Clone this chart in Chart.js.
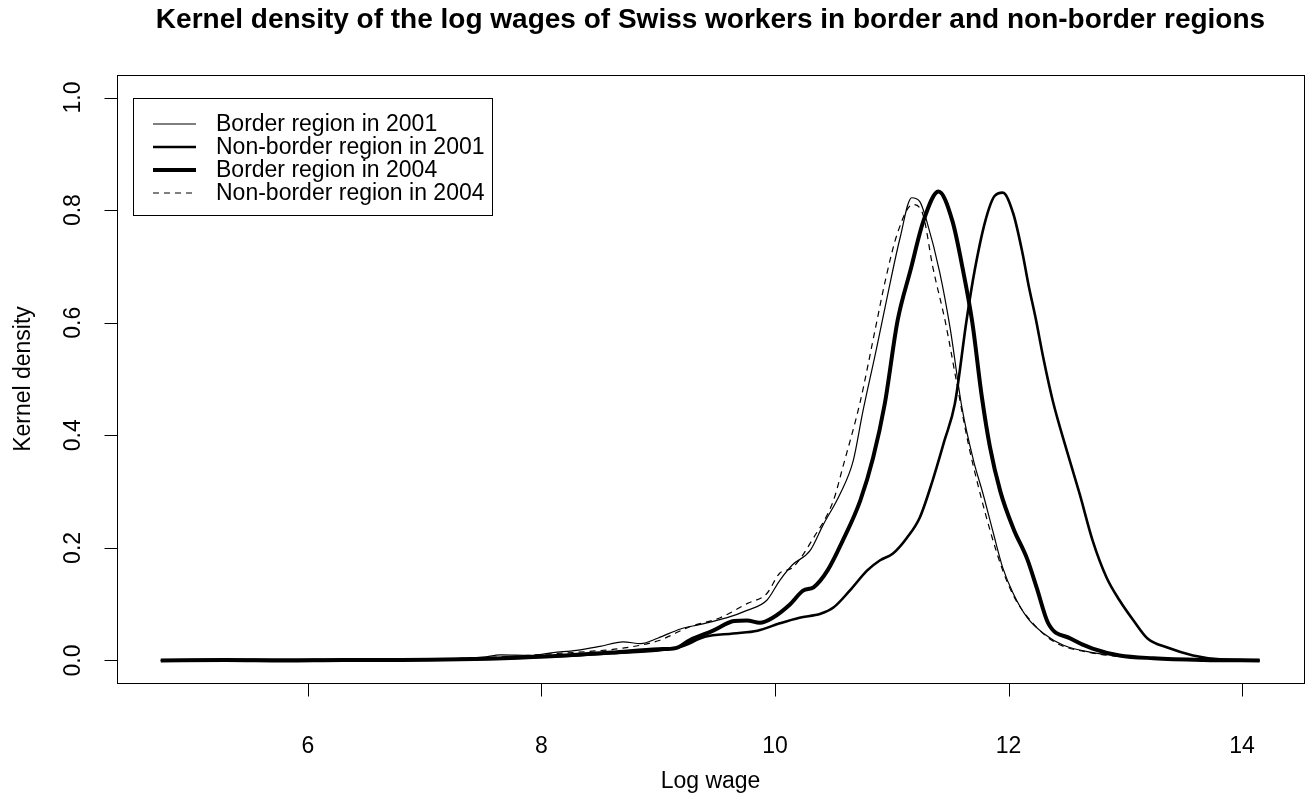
<!DOCTYPE html>
<html>
<head>
<meta charset="utf-8">
<script src="https://cdn.jsdelivr.net/npm/chart.js@4.4.1/dist/chart.umd.min.js"></script>
<style>
  html, body { margin: 0; padding: 0; background: #fff; }
  #wrap { width: 1314px; height: 801px; }
</style>
</head>
<body>
<div id="wrap"><canvas id="densityChart" width="1314" height="801"></canvas></div>
<script>
// 축 눈금
const xTicks = [6, 8, 10, 12, 14];
const yTicks = [0, 0.2, 0.4, 0.6, 0.8, 1.0];
const yTickLabels = ['0.0', '0.2', '0.4', '0.6', '0.8', '1.0'];

// Border region in 2001 (thin)
const border2001X = [4.74, 5.2, 5.6, 6.0, 6.4, 6.8, 7.2, 7.5, 7.65, 7.9, 8.1, 8.3, 8.5, 8.7, 8.85, 9.0, 9.19, 9.36, 9.59, 9.76, 9.93, 10.04, 10.15, 10.3, 10.41, 10.56, 10.67, 10.75, 10.87, 10.96, 11.07, 11.17, 11.24, 11.3, 11.41, 11.5, 11.6, 11.7, 11.78, 11.87, 11.95, 12.04, 12.16, 12.3, 12.47, 12.72, 13.0, 13.4, 13.8, 14.15];
const border2001Y = [0, 0.001, 0, 0.001, 0.001, 0.002, 0.003, 0.006, 0.01, 0.009, 0.014, 0.018, 0.025, 0.033, 0.03, 0.04, 0.056, 0.064, 0.076, 0.089, 0.107, 0.142, 0.17, 0.195, 0.24, 0.297, 0.355, 0.44, 0.555, 0.645, 0.75, 0.822, 0.815, 0.78, 0.69, 0.59, 0.45, 0.355, 0.297, 0.226, 0.165, 0.119, 0.076, 0.048, 0.027, 0.014, 0.007, 0.003, 0.001, 0];

// Non-border region in 2001 (medium)
const nonBorder2001X = [4.74, 5.3, 5.8, 6.3, 6.8, 7.3, 7.8, 8.2, 8.6, 9.0, 9.2, 9.4, 9.64, 9.85, 10.04, 10.21, 10.39, 10.5, 10.64, 10.79, 10.9, 11.01, 11.13, 11.24, 11.35, 11.45, 11.54, 11.64, 11.71, 11.8, 11.88, 11.95, 12.04, 12.12, 12.17, 12.23, 12.3, 12.38, 12.5, 12.61, 12.72, 12.84, 12.95, 13.07, 13.19, 13.36, 13.58, 13.81, 14.15];
const nonBorder2001Y = [0, 0.001, 0.001, 0.001, 0.002, 0.002, 0.005, 0.008, 0.013, 0.018, 0.025, 0.042, 0.048, 0.053, 0.066, 0.076, 0.083, 0.094, 0.124, 0.16, 0.178, 0.19, 0.218, 0.254, 0.32, 0.39, 0.456, 0.604, 0.693, 0.78, 0.825, 0.831, 0.794, 0.723, 0.668, 0.61, 0.535, 0.46, 0.372, 0.295, 0.213, 0.147, 0.107, 0.071, 0.039, 0.023, 0.009, 0.002, 0];

// Border region in 2004 (thick)
const border2004X = [4.74, 5.3, 5.8, 6.3, 6.8, 7.3, 7.8, 8.2, 8.6, 9.0, 9.15, 9.27, 9.47, 9.65, 9.76, 9.87, 9.98, 10.13, 10.24, 10.33, 10.45, 10.58, 10.73, 10.84, 10.94, 11.05, 11.16, 11.27, 11.4, 11.52, 11.61, 11.69, 11.77, 11.84, 11.93, 12.04, 12.16, 12.24, 12.34, 12.53, 12.72, 12.95, 13.24, 13.67, 14.15];
const border2004Y = [0, 0.001, 0, 0.001, 0.001, 0.002, 0.005, 0.009, 0.014, 0.02, 0.022, 0.036, 0.053, 0.07, 0.071, 0.067, 0.076, 0.1, 0.124, 0.13, 0.16, 0.213, 0.284, 0.36, 0.456, 0.604, 0.693, 0.78, 0.833, 0.78, 0.693, 0.6, 0.47, 0.38, 0.3, 0.235, 0.18, 0.13, 0.066, 0.039, 0.021, 0.009, 0.004, 0.001, 0];

// Non-border region in 2004 (dashed)
const nonBorder2004X = [4.74, 5.2, 5.6, 6.0, 6.4, 6.8, 7.2, 7.5, 7.8, 8.1, 8.4, 8.7, 9.0, 9.27, 9.53, 9.76, 9.93, 10.04, 10.15, 10.33, 10.5, 10.58, 10.73, 10.85, 10.95, 11.05, 11.18, 11.27, 11.35, 11.46, 11.55, 11.65, 11.74, 11.85, 11.95, 12.05, 12.2, 12.4, 12.7, 13.0, 13.5, 14.15];
const nonBorder2004Y = [0, 0.001, 0, 0.001, 0.001, 0.002, 0.003, 0.005, 0.008, 0.012, 0.016, 0.022, 0.035, 0.06, 0.076, 0.101, 0.119, 0.155, 0.165, 0.218, 0.284, 0.343, 0.46, 0.58, 0.68, 0.76, 0.81, 0.79, 0.7, 0.6, 0.5, 0.39, 0.31, 0.225, 0.16, 0.112, 0.068, 0.032, 0.014, 0.006, 0.002, 0];

const seriesLabels = ['Border region in 2001', 'Non-border region in 2001', 'Border region in 2004', 'Non-border region in 2004'];

const FONT = '"Liberation Sans", Arial, sans-serif';

function toPoints(xs, ys) {
  return xs.map((x, i) => ({ x: x, y: ys[i] }));
}

function makeSet(label, xs, ys, width, dash) {
  return {
    label: label,
    data: toPoints(xs, ys),
    borderColor: '#000',
    borderWidth: width,
    borderDash: dash,
    pointRadius: 0,
    fill: false,
    cubicInterpolationMode: 'monotone'
  };
}

// R 스타일 축, 박스, 제목, 범례
const rStyle = {
  id: 'rStyle',
  afterDraw(chart) {
    const ctx = chart.ctx;
    const a = chart.chartArea;
    const xs = chart.scales.x;
    const ys = chart.scales.y;
    ctx.save();
    ctx.strokeStyle = '#000';
    ctx.fillStyle = '#000';
    ctx.lineWidth = 1;
    ctx.setLineDash([]);

    // plot box
    const L = Math.round(a.left) + 0.5, R = Math.round(a.right) + 0.5;
    const T = Math.round(a.top) + 0.5, B = Math.round(a.bottom) + 0.5;
    ctx.strokeRect(L, T, R - L, B - T);

    // x axis
    const tick = 13;
    ctx.beginPath();
    ctx.moveTo(Math.round(xs.getPixelForValue(xTicks[0])) + 0.5, B);
    ctx.lineTo(Math.round(xs.getPixelForValue(xTicks[xTicks.length - 1])) + 0.5, B);
    xTicks.forEach(v => {
      const px = Math.round(xs.getPixelForValue(v)) + 0.5;
      ctx.moveTo(px, B);
      ctx.lineTo(px, B + tick);
    });
    ctx.stroke();
    ctx.font = '23px ' + FONT;
    ctx.textAlign = 'center';
    ctx.textBaseline = 'middle';
    xTicks.forEach(v => {
      ctx.fillText(String(v), xs.getPixelForValue(v), 747);
    });

    // y axis
    ctx.beginPath();
    ctx.moveTo(L, Math.round(ys.getPixelForValue(yTicks[0])) + 0.5);
    ctx.lineTo(L, Math.round(ys.getPixelForValue(yTicks[yTicks.length - 1])) + 0.5);
    yTicks.forEach(v => {
      const py = Math.round(ys.getPixelForValue(v)) + 0.5;
      ctx.moveTo(L, py);
      ctx.lineTo(L - tick, py);
    });
    ctx.stroke();
    yTicks.forEach((v, i) => {
      ctx.save();
      ctx.translate(74, ys.getPixelForValue(v));
      ctx.rotate(-Math.PI / 2);
      ctx.fillText(yTickLabels[i], 0, 0);
      ctx.restore();
    });

    // axis titles
    ctx.fillText('Log wage', (a.left + a.right) / 2, 782);
    ctx.save();
    ctx.translate(24, (a.top + a.bottom) / 2);
    ctx.rotate(-Math.PI / 2);
    ctx.fillText('Kernel density', 0, 0);
    ctx.restore();

    // title
    ctx.font = 'bold 28px ' + FONT;
    ctx.fillText('Kernel density of the log wages of Swiss workers in border and non-border regions', (a.left + a.right) / 2, 20);

    // legend
    ctx.strokeRect(133.5, 98.5, 359, 117);
    ctx.font = '23px ' + FONT;
    ctx.textAlign = 'left';
    const rowY = [124, 147, 170, 193];
    chart.data.datasets.forEach((ds, i) => {
      ctx.beginPath();
      ctx.lineWidth = ds.borderWidth;
      ctx.setLineDash(ds.borderDash || []);
      ctx.moveTo(153, rowY[i]);
      ctx.lineTo(196, rowY[i]);
      ctx.stroke();
      ctx.fillText(ds.label, 216, rowY[i] + 1);
    });
    ctx.restore();
  }
};

const ctx = document.getElementById('densityChart').getContext('2d');
const chart = new Chart(ctx, {
  type: 'line',
  data: {
    datasets: [
      makeSet(seriesLabels[0], border2001X, border2001Y, 1.2, []),
      makeSet(seriesLabels[1], nonBorder2001X, nonBorder2001Y, 2.6, []),
      makeSet(seriesLabels[2], border2004X, border2004Y, 4, []),
      makeSet(seriesLabels[3], nonBorder2004X, nonBorder2004Y, 1.2, [6, 5])
    ]
  },
  options: {
    responsive: false,
    devicePixelRatio: 1,
    animation: false,
    layout: { padding: { left: 117, right: 10, top: 75, bottom: 118 } },
    scales: {
      x: { type: 'linear', min: 4.365, max: 14.53, display: false },
      y: { type: 'linear', min: -0.04, max: 1.04, display: false }
    },
    plugins: {
      legend: { display: false },
      tooltip: { enabled: false }
    }
  },
  plugins: [rStyle]
});
</script>
</body>
</html>
